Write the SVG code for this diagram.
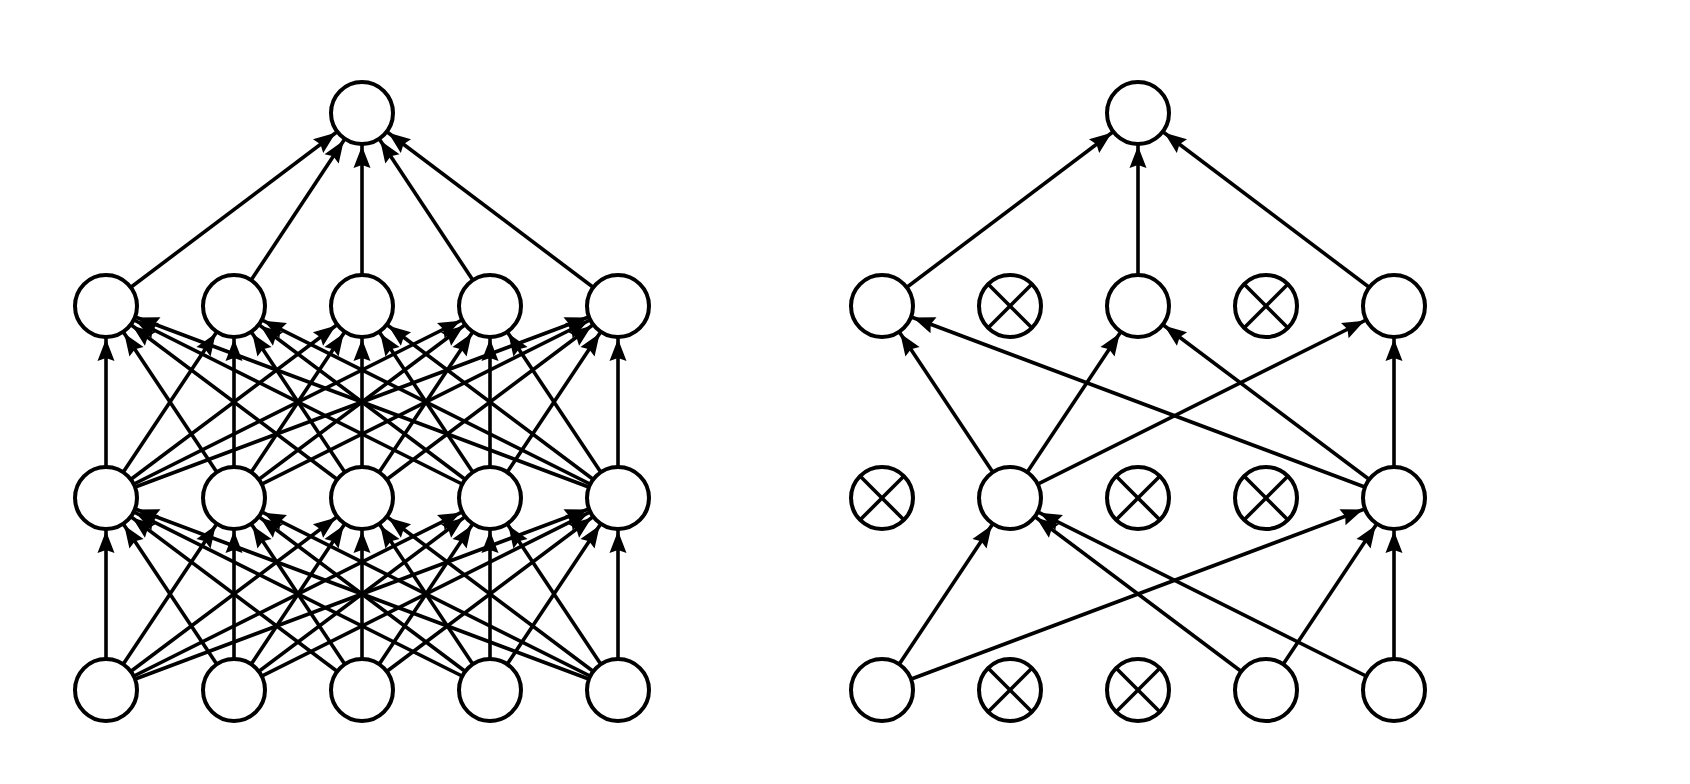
<svg xmlns="http://www.w3.org/2000/svg" width="1690" height="784" viewBox="0 0 1690 784">
<defs>
<marker id="ah" markerUnits="userSpaceOnUse" markerWidth="22" markerHeight="17" refX="55" refY="8.5" orient="auto" overflow="visible">
<path d="M0,0 L22,8.5 L0,17 L3,8.5 z" fill="#000"/>
</marker>
</defs>
<style>
.c{stroke:#000;stroke-width:3.6;fill:none;marker-end:url(#ah)}
.n{fill:#fff;stroke:#000;stroke-width:4}
.x{stroke:#000;stroke-width:3.6}
</style>
<rect width="1690" height="784" fill="#fff"/>
<g id="connectors">
<line class="c" x1="106" y1="690" x2="106" y2="498"/><line class="c" x1="106" y1="690" x2="234" y2="498"/><line class="c" x1="106" y1="690" x2="362" y2="498"/><line class="c" x1="106" y1="690" x2="490" y2="498"/><line class="c" x1="106" y1="690" x2="618" y2="498"/>
<line class="c" x1="234" y1="690" x2="106" y2="498"/><line class="c" x1="234" y1="690" x2="234" y2="498"/><line class="c" x1="234" y1="690" x2="362" y2="498"/><line class="c" x1="234" y1="690" x2="490" y2="498"/><line class="c" x1="234" y1="690" x2="618" y2="498"/>
<line class="c" x1="362" y1="690" x2="106" y2="498"/><line class="c" x1="362" y1="690" x2="234" y2="498"/><line class="c" x1="362" y1="690" x2="362" y2="498"/><line class="c" x1="362" y1="690" x2="490" y2="498"/><line class="c" x1="362" y1="690" x2="618" y2="498"/>
<line class="c" x1="490" y1="690" x2="106" y2="498"/><line class="c" x1="490" y1="690" x2="234" y2="498"/><line class="c" x1="490" y1="690" x2="362" y2="498"/><line class="c" x1="490" y1="690" x2="490" y2="498"/><line class="c" x1="490" y1="690" x2="618" y2="498"/>
<line class="c" x1="618" y1="690" x2="106" y2="498"/><line class="c" x1="618" y1="690" x2="234" y2="498"/><line class="c" x1="618" y1="690" x2="362" y2="498"/><line class="c" x1="618" y1="690" x2="490" y2="498"/><line class="c" x1="618" y1="690" x2="618" y2="498"/>
<line class="c" x1="106" y1="498" x2="106" y2="306"/><line class="c" x1="106" y1="498" x2="234" y2="306"/><line class="c" x1="106" y1="498" x2="362" y2="306"/><line class="c" x1="106" y1="498" x2="490" y2="306"/><line class="c" x1="106" y1="498" x2="618" y2="306"/>
<line class="c" x1="234" y1="498" x2="106" y2="306"/><line class="c" x1="234" y1="498" x2="234" y2="306"/><line class="c" x1="234" y1="498" x2="362" y2="306"/><line class="c" x1="234" y1="498" x2="490" y2="306"/><line class="c" x1="234" y1="498" x2="618" y2="306"/>
<line class="c" x1="362" y1="498" x2="106" y2="306"/><line class="c" x1="362" y1="498" x2="234" y2="306"/><line class="c" x1="362" y1="498" x2="362" y2="306"/><line class="c" x1="362" y1="498" x2="490" y2="306"/><line class="c" x1="362" y1="498" x2="618" y2="306"/>
<line class="c" x1="490" y1="498" x2="106" y2="306"/><line class="c" x1="490" y1="498" x2="234" y2="306"/><line class="c" x1="490" y1="498" x2="362" y2="306"/><line class="c" x1="490" y1="498" x2="490" y2="306"/><line class="c" x1="490" y1="498" x2="618" y2="306"/>
<line class="c" x1="618" y1="498" x2="106" y2="306"/><line class="c" x1="618" y1="498" x2="234" y2="306"/><line class="c" x1="618" y1="498" x2="362" y2="306"/><line class="c" x1="618" y1="498" x2="490" y2="306"/><line class="c" x1="618" y1="498" x2="618" y2="306"/>
<line class="c" x1="106" y1="306" x2="362" y2="113"/><line class="c" x1="234" y1="306" x2="362" y2="113"/><line class="c" x1="362" y1="306" x2="362" y2="113"/><line class="c" x1="490" y1="306" x2="362" y2="113"/><line class="c" x1="618" y1="306" x2="362" y2="113"/>
<line class="c" x1="882" y1="690" x2="1010" y2="498"/><line class="c" x1="882" y1="690" x2="1394" y2="498"/>
<line class="c" x1="1266" y1="690" x2="1010" y2="498"/><line class="c" x1="1266" y1="690" x2="1394" y2="498"/>
<line class="c" x1="1394" y1="690" x2="1010" y2="498"/><line class="c" x1="1394" y1="690" x2="1394" y2="498"/>
<line class="c" x1="1010" y1="498" x2="882" y2="306"/><line class="c" x1="1010" y1="498" x2="1138" y2="306"/><line class="c" x1="1010" y1="498" x2="1394" y2="306"/>
<line class="c" x1="1394" y1="498" x2="882" y2="306"/><line class="c" x1="1394" y1="498" x2="1138" y2="306"/><line class="c" x1="1394" y1="498" x2="1394" y2="306"/>
<line class="c" x1="882" y1="306" x2="1138" y2="113"/><line class="c" x1="1138" y1="306" x2="1138" y2="113"/><line class="c" x1="1394" y1="306" x2="1138" y2="113"/>
</g>
<g id="L-out"><circle class="n" cx="362" cy="113" r="31"/></g>
<g id="L-h2-0"><circle class="n" cx="106" cy="306" r="31"/></g>
<g id="L-h2-1"><circle class="n" cx="234" cy="306" r="31"/></g>
<g id="L-h2-2"><circle class="n" cx="362" cy="306" r="31"/></g>
<g id="L-h2-3"><circle class="n" cx="490" cy="306" r="31"/></g>
<g id="L-h2-4"><circle class="n" cx="618" cy="306" r="31"/></g>
<g id="L-h1-0"><circle class="n" cx="106" cy="498" r="31"/></g>
<g id="L-h1-1"><circle class="n" cx="234" cy="498" r="31"/></g>
<g id="L-h1-2"><circle class="n" cx="362" cy="498" r="31"/></g>
<g id="L-h1-3"><circle class="n" cx="490" cy="498" r="31"/></g>
<g id="L-h1-4"><circle class="n" cx="618" cy="498" r="31"/></g>
<g id="L-in-0"><circle class="n" cx="106" cy="690" r="31"/></g>
<g id="L-in-1"><circle class="n" cx="234" cy="690" r="31"/></g>
<g id="L-in-2"><circle class="n" cx="362" cy="690" r="31"/></g>
<g id="L-in-3"><circle class="n" cx="490" cy="690" r="31"/></g>
<g id="L-in-4"><circle class="n" cx="618" cy="690" r="31"/></g>
<g id="R-out"><circle class="n" cx="1138" cy="113" r="31"/></g>
<g id="R-h2-0"><circle class="n" cx="882" cy="306" r="31"/></g>
<g id="R-h2-1"><circle class="n" cx="1010" cy="306" r="31"/><line class="x" x1="988" y1="284" x2="1032" y2="328"/><line class="x" x1="1032" y1="284" x2="988" y2="328"/></g>
<g id="R-h2-2"><circle class="n" cx="1138" cy="306" r="31"/></g>
<g id="R-h2-3"><circle class="n" cx="1266" cy="306" r="31"/><line class="x" x1="1244" y1="284" x2="1288" y2="328"/><line class="x" x1="1288" y1="284" x2="1244" y2="328"/></g>
<g id="R-h2-4"><circle class="n" cx="1394" cy="306" r="31"/></g>
<g id="R-h1-0"><circle class="n" cx="882" cy="498" r="31"/><line class="x" x1="860" y1="476" x2="904" y2="520"/><line class="x" x1="904" y1="476" x2="860" y2="520"/></g>
<g id="R-h1-1"><circle class="n" cx="1010" cy="498" r="31"/></g>
<g id="R-h1-2"><circle class="n" cx="1138" cy="498" r="31"/><line class="x" x1="1116" y1="476" x2="1160" y2="520"/><line class="x" x1="1160" y1="476" x2="1116" y2="520"/></g>
<g id="R-h1-3"><circle class="n" cx="1266" cy="498" r="31"/><line class="x" x1="1244" y1="476" x2="1288" y2="520"/><line class="x" x1="1288" y1="476" x2="1244" y2="520"/></g>
<g id="R-h1-4"><circle class="n" cx="1394" cy="498" r="31"/></g>
<g id="R-in-0"><circle class="n" cx="882" cy="690" r="31"/></g>
<g id="R-in-1"><circle class="n" cx="1010" cy="690" r="31"/><line class="x" x1="988" y1="668" x2="1032" y2="712"/><line class="x" x1="1032" y1="668" x2="988" y2="712"/></g>
<g id="R-in-2"><circle class="n" cx="1138" cy="690" r="31"/><line class="x" x1="1116" y1="668" x2="1160" y2="712"/><line class="x" x1="1160" y1="668" x2="1116" y2="712"/></g>
<g id="R-in-3"><circle class="n" cx="1266" cy="690" r="31"/></g>
<g id="R-in-4"><circle class="n" cx="1394" cy="690" r="31"/></g>
</svg>
